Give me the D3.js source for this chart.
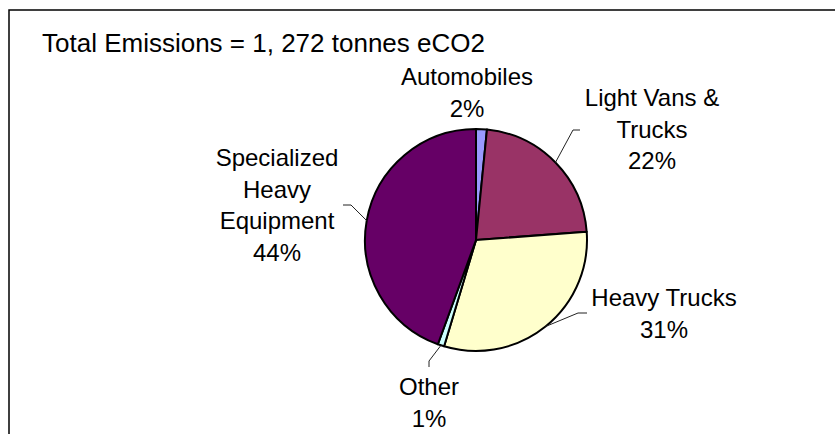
<!DOCTYPE html>
<html>
<head>
<meta charset="utf-8">
<script src="https://cdn.jsdelivr.net/npm/d3@7"></script>
<style>
  html, body { margin: 0; padding: 0; background: #fff; }
  svg { display: block; font-family: "Liberation Sans", Arial, sans-serif; }
</style>
</head>
<body>
<svg id="chart" width="835" height="434"></svg>
<script>
// ---- data ----
const categories = ["Automobiles", "Light Vans & Trucks", "Heavy Trucks", "Other", "Specialized Heavy Equipment"];
const values = [20, 283, 392, 12, 565]; // tonnes eCO2, total 1,272
const percentLabels = ["2%", "22%", "31%", "1%", "44%"];
const labelLines = [["Automobiles"], ["Light Vans &", "Trucks"], ["Heavy Trucks"], ["Other"], ["Specialized", "Heavy", "Equipment"]];
const colors = ["#9999FF", "#993366", "#FFFFCC", "#CCFFFF", "#660066"];
const titleText = "Total Emissions = 1, 272 tonnes eCO2";

// ---- layout ----
const W = 835, H = 434;
const cx = 476, cy = 240, R = 111;
// label anchor (center x, first baseline y), and leader elbow/end points
const labelLayout = [
  { x: 467, y: 85, leader: null },
  { x: 652, y: 106, leader: [[573, 130], [580, 130]] },
  { x: 664, y: 306, leader: [[578, 313], [587, 313]] },
  { x: 429, y: 395, leader: [[429, 361], [429, 367]] },
  { x: 277, y: 166, leader: [[351, 205], [343, 205]] }
];
const lineGap = 31.5;

const svg = d3.select("#chart");

// frame (right and bottom edges lie outside the view)
svg.append("rect")
  .attr("x", 9).attr("y", 10)
  .attr("width", 900).attr("height", 500)
  .attr("fill", "none").attr("stroke", "#000").attr("stroke-width", 1.5);

// title
svg.append("text")
  .attr("x", 42).attr("y", 52)
  .attr("font-size", 26)
  .attr("fill", "#000")
  .text(titleText);

const pie = d3.pie().sort(null).value(d => d)(values);
const arc = d3.arc().innerRadius(0).outerRadius(R);

const g = svg.append("g").attr("transform", `translate(${cx},${cy})`);
g.selectAll("path.slice")
  .data(pie)
  .join("path")
  .attr("class", "slice")
  .attr("d", arc)
  .attr("fill", (d, i) => colors[i])
  .attr("stroke", "#000")
  .attr("stroke-width", 2)
  .attr("stroke-linejoin", "round");

// leader lines
pie.forEach((d, i) => {
  const lay = labelLayout[i];
  if (!lay.leader) return;
  const a = (d.startAngle + d.endAngle) / 2;
  const p0 = [cx + R * Math.sin(a), cy - R * Math.cos(a)];
  const pts = [p0].concat(lay.leader);
  svg.append("polyline")
    .attr("points", pts.map(p => p.join(",")).join(" "))
    .attr("fill", "none")
    .attr("stroke", "#222")
    .attr("stroke-width", 1);
});

// labels
pie.forEach((d, i) => {
  const lay = labelLayout[i];
  const lines = labelLines[i].concat([percentLabels[i]]);
  const t = svg.append("text")
    .attr("text-anchor", "middle")
    .attr("font-size", 24)
    .attr("fill", "#000");
  lines.forEach((ln, k) => {
    t.append("tspan")
      .attr("x", lay.x)
      .attr("y", lay.y + k * lineGap)
      .text(ln);
  });
});
</script>
</body>
</html>
